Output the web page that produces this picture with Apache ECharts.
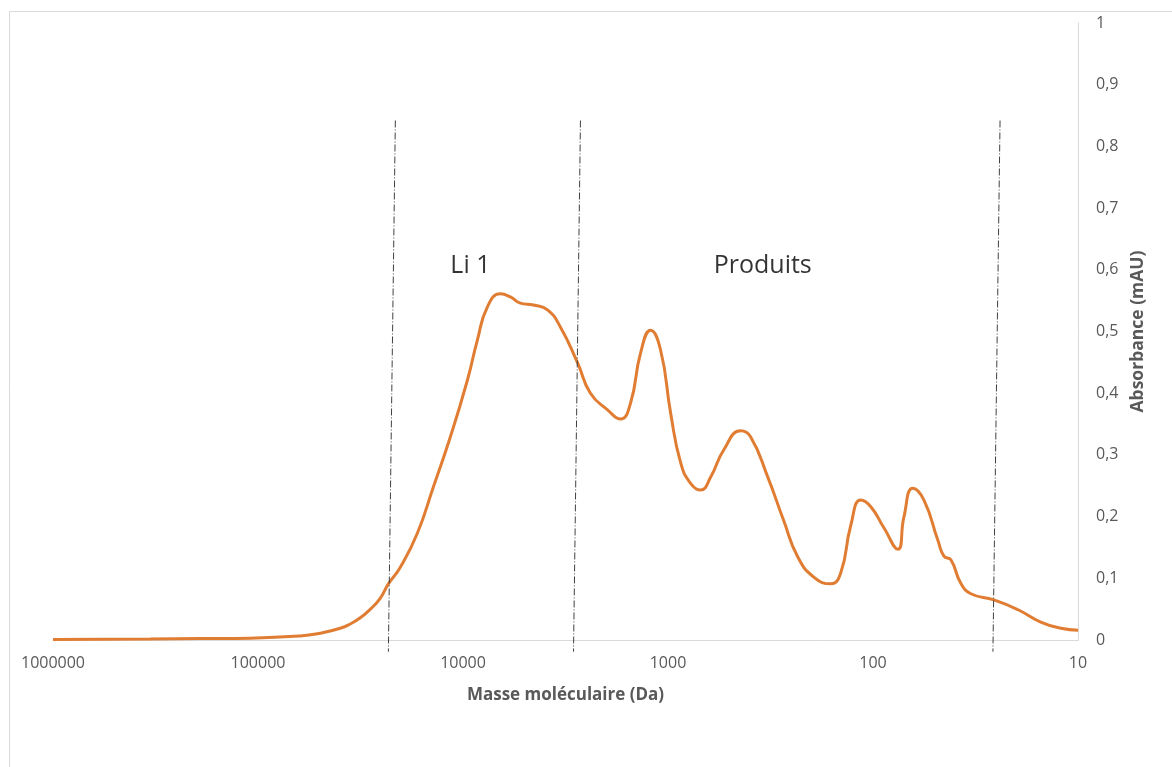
<!DOCTYPE html>
<html>
<head>
<meta charset="utf-8">
<script src="https://cdn.jsdelivr.net/npm/echarts@6/dist/echarts.min.js"></script>
<style>html,body{margin:0;padding:0;background:#fff}#c{width:1172px;height:767px}</style>
</head>
<body>
<div id="c"></div>
<script>
// Masse moléculaire (Da) and absorbance (mAU)
const masses = [1000000, 336000, 191500, 109200, 62200, 49700, 39700, 35460, 31700, 28300, 25300, 23120, 20220, 16700, 13950, 11530, 9520, 8510, 7600, 6570, 5870, 5250, 4530, 3870, 3345, 2760, 2390, 1972, 1703, 1523, 1361, 1217, 1087, 971, 867, 776, 693, 619, 535, 442, 395, 326, 273, 233, 194.5, 160.7, 143.6, 128.3, 114.7, 102.5, 88.5, 75.6, 70.7, 63.9, 56.5, 48.3, 45.1, 41.7, 37.3, 33.3, 25.7, 19.6, 15.2, 12.1, 10];
const absorbance = [0.001, 0.0016, 0.0024, 0.003, 0.0065, 0.011, 0.019, 0.026, 0.036, 0.050, 0.068, 0.091, 0.118, 0.173, 0.248, 0.329, 0.421, 0.486, 0.540, 0.561, 0.556, 0.546, 0.543, 0.535, 0.507, 0.449, 0.400, 0.373, 0.358, 0.384, 0.465, 0.502, 0.470, 0.368, 0.287, 0.254, 0.243, 0.264, 0.308, 0.339, 0.329, 0.264, 0.194, 0.135, 0.102, 0.091, 0.109, 0.186, 0.227, 0.216, 0.182, 0.147, 0.199, 0.246, 0.227, 0.162, 0.136, 0.130, 0.092, 0.075, 0.065, 0.049, 0.029, 0.019, 0.016];
// Separator lines: [mass at top, abs at top, mass at bottom, abs at bottom]
const separators = [
  [21380, 0.842, 23120, -0.019],
  [2673, 0.842, 2890, -0.019],
  [24.0, 0.842, 26.0, -0.019]
];
// Region labels
const regionLabels = [
  {name: 'Li 1', mass: 9200, abs: 0.606},
  {name: 'Produits', mass: 345, abs: 0.606}
];
const xTicks = [1000000, 100000, 10000, 1000, 100, 10];

const chart = echarts.init(document.getElementById('c'));
const font = '"Open Sans", sans-serif';
const series = [{
  type: 'line',
  data: masses.map((m, i) => [m, absorbance[i]]),
  smooth: 0.5,
  showSymbol: false,
  lineStyle: {color: '#E07D33', width: 3},
  z: 3
}];
separators.forEach(s => {
  series.push({
    type: 'line',
    data: [[s[0], s[1]], [s[2], s[3]]],
    showSymbol: false,
    clip: false,
    silent: true,
    lineStyle: {color: '#404040', width: 1, type: [7, 2, 1, 2]},
    z: 4
  });
});
series.push({
  type: 'scatter',
  data: regionLabels.map(r => ({value: [r.mass, r.abs], name: r.name})),
  symbolSize: 0,
  silent: true,
  label: {
    show: true, position: 'inside', formatter: p => p.name,
    color: '#000', fontSize: 25, fontFamily: font
  }
});

chart.setOption({
  animation: false,
  graphic: [{
    type: 'rect', shape: {x: 9.5, y: 11.5, width: 1300, height: 900},
    style: {fill: 'none', stroke: '#d9d9d9', lineWidth: 1}, z: -10
  }],
  grid: {left: 53, right: 94, top: 23, bottom: 127},
  xAxis: {
    type: 'log', logBase: 10, min: 10, max: 1000000, inverse: true,
    name: 'Masse moléculaire (Da)', nameLocation: 'middle', nameGap: 47,
    nameTextStyle: {color: '#595959', fontSize: 17, fontWeight: 'bold', fontFamily: font},
    axisLine: {lineStyle: {color: '#d9d9d9', width: 1}},
    axisTick: {show: false},
    splitLine: {show: false},
    minorTick: {show: false},
    axisLabel: {
      color: '#595959', fontSize: 16, fontFamily: font, margin: 15,
      showMinLabel: true, showMaxLabel: true,
      formatter: v => { const t = xTicks.find(k => Math.abs(k - v) / k < 1e-6); return t ? String(t) : ''; }
    }
  },
  yAxis: {
    type: 'value', position: 'right', min: 0, max: 1, interval: 0.1,
    name: 'Absorbance (mAU)', nameLocation: 'middle', nameGap: 50, nameRotate: 90,
    nameTextStyle: {color: '#595959', fontSize: 17.5, fontWeight: 'bold', fontFamily: font},
    axisLine: {show: true, lineStyle: {color: '#d9d9d9', width: 1}},
    axisTick: {show: false},
    splitLine: {show: false},
    axisLabel: {
      color: '#595959', fontSize: 16, fontFamily: font, margin: 18,
      formatter: v => String(Math.round(v * 10) / 10).replace('.', ',')
    }
  },
  series: series
});
</script>
</body>
</html>
